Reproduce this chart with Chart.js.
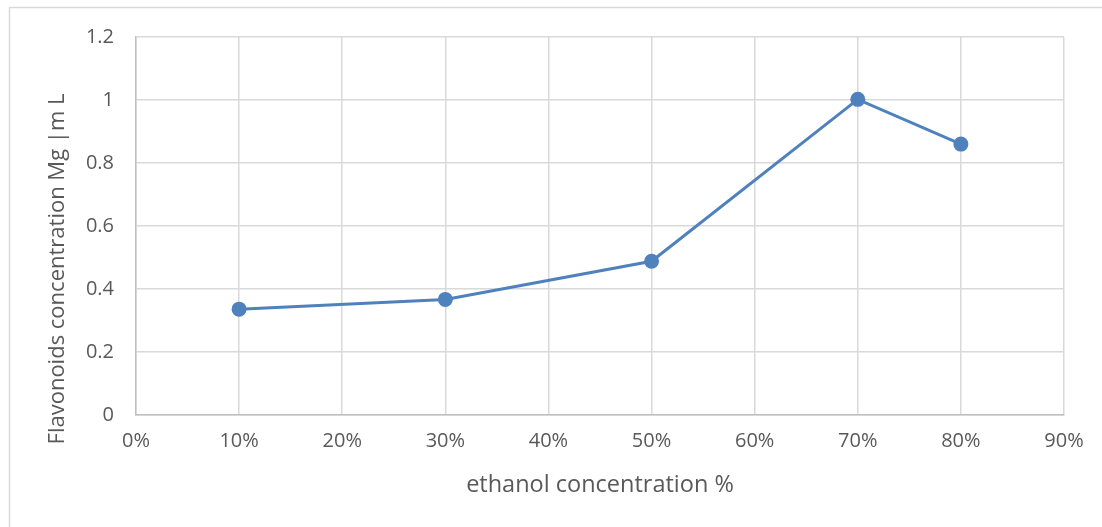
<!DOCTYPE html>
<html>
<head>
<meta charset="utf-8">
<script src="https://cdn.jsdelivr.net/npm/chart.js@4.4.0/dist/chart.umd.min.js"></script>
<style>
  html, body { margin: 0; padding: 0; background: #ffffff; }
  #wrap { width: 1102px; height: 527px; position: relative; }
</style>
</head>
<body>
<div id="wrap"><canvas id="chart"></canvas></div>
<script>
// Ethanol concentration (%) and measured flavonoid concentration (mg/mL)
const ethanolPct = [10, 30, 50, 70, 80];
const flavonoids = [0.336, 0.367, 0.488, 1.002, 0.860];

const xTitle = 'ethanol concentration %';
const yTitle = 'Flavonoids concentration Mg |m L';

const textColor = '#595959';
const gridColor = '#d9d9d9';
const axisColor = '#bfbfbf';
const lineColor = '#4f81bd';
const fontFamily = '"Open Sans", "Noto Sans", sans-serif';

// Frame around the chart and the two axis titles
const decorations = {
  id: 'decorations',
  beforeDraw(chart) {
    const ctx = chart.ctx;
    ctx.save();
    ctx.fillStyle = '#ffffff';
    ctx.fillRect(0, 0, chart.width, chart.height);
    ctx.strokeStyle = gridColor;
    ctx.lineWidth = 1.5;
    ctx.strokeRect(9.5, 7.5, 1300, 700);
    ctx.restore();
  },
  afterDraw(chart) {
    const ctx = chart.ctx;
    const area = chart.chartArea;
    ctx.save();
    ctx.fillStyle = textColor;
    ctx.textAlign = 'center';
    ctx.textBaseline = 'middle';
    ctx.font = '23.5px ' + fontFamily;
    ctx.fillText(xTitle, (area.left + area.right) / 2, 485);
    ctx.font = '22px ' + fontFamily;
    ctx.translate(58, 269);
    ctx.rotate(-Math.PI / 2);
    ctx.fillText(yTitle, 0, 0);
    ctx.restore();
  }
};

new Chart(document.getElementById('chart'), {
  type: 'line',
  data: {
    datasets: [{
      data: ethanolPct.map((x, i) => ({ x, y: flavonoids[i] })),
      borderColor: lineColor,
      backgroundColor: lineColor,
      borderWidth: 3,
      pointRadius: 7.5,
      pointHoverRadius: 7.5,
      pointBorderWidth: 0,
      tension: 0,
      fill: false
    }]
  },
  options: {
    responsive: true,
    maintainAspectRatio: false,
    animation: false,
    layout: { padding: { left: 0, top: 37, right: 38, bottom: 0 } },
    plugins: {
      legend: { display: false },
      tooltip: { enabled: false }
    },
    scales: {
      x: {
        type: 'linear',
        min: 0,
        max: 90,
        afterFit(scale) { scale.height = 112; },
        ticks: {
          stepSize: 10,
          padding: 14,
          color: textColor,
          font: { family: fontFamily, size: 20 },
          callback: v => v + '%'
        },
        grid: { color: gridColor, lineWidth: 1.5, drawTicks: false },
        border: { color: axisColor, width: 1.5 }
      },
      y: {
        min: 0,
        max: 1.2,
        afterFit(scale) { scale.width = 136; },
        ticks: {
          stepSize: 0.2,
          padding: 22,
          color: textColor,
          font: { family: fontFamily, size: 20 },
          callback: v => String(Math.round(v * 10) / 10)
        },
        grid: { color: gridColor, lineWidth: 1.5, drawTicks: false },
        border: { color: axisColor, width: 1.5 }
      }
    }
  },
  plugins: [decorations]
});
</script>
</body>
</html>
